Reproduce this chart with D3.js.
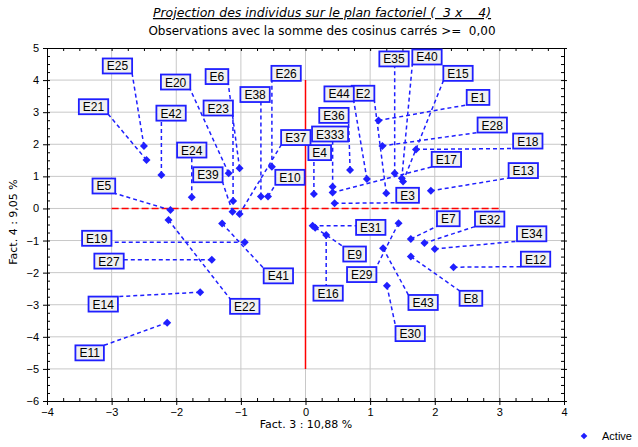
<!DOCTYPE html>
<html>
<head>
<meta charset="utf-8">
<script src="https://cdn.jsdelivr.net/npm/d3@7"></script>
<style>
  body { margin: 0; background: #fff; }
  text { font-family: "Liberation Sans", Arial, sans-serif; }
  .wide { font-family: "DejaVu Sans", sans-serif; }
</style>
</head>
<body>
<svg id="chart"></svg>
<script>
// Individuals projected on factor plane 3 x 4
const names  = ['E1','E2','E3','E4','E5','E6','E7','E8','E9','E10','E11','E12','E13','E14','E15','E16','E17','E18','E19','E20','E21','E22','E23','E24','E25','E26','E27','E28','E29','E30','E31','E32','E333','E34','E35','E36','E37','E38','E39','E40','E41','E42','E43','E44'];
const fact3  = [1.13, 1.25, 0.45, 0.13, -2.09, -1.02, 1.63, 1.63, 0.15, -0.58, -2.14, 2.29, 1.94, -1.63, 1.51, 0.32, 0.42, 1.71, -0.94, -1.19, -2.46, -2.12, -1.12, -1.76, -2.50, -0.52, -1.45, 1.19, 1.44, 1.26, 0.11, 1.84, 0.42, 2.00, 1.38, 0.69, -1.02, -0.69, -1.13, 1.49, -1.29, -2.23, 1.20, 0.95];
const fact4  = [2.74, 0.47, 0.16, 0.45, -0.05, 1.25, -0.95, -1.50, -0.60, 0.37, -3.56, -1.83, 0.55, -2.61, 0.84, -0.83, 0.50, 1.84, -1.05, 1.10, 1.51, -0.36, 0.23, 0.35, 1.95, 1.30, -1.60, 1.95, -0.46, -2.41, -0.54, -1.08, 0.68, -1.26, 1.10, 1.20, -0.17, 0.37, -0.10, 0.94, -0.47, 1.04, -1.24, 0.92];
// where each name tag sits, in factor units
const labelX = [2.67, 0.89, 1.58, 0.22, -3.12, -1.37, 2.21, 2.56, 0.76, -0.24, -3.34, 3.56, 3.37, -3.13, 2.36, 0.35, 2.18, 3.44, -3.23, -2.01, -3.28, -0.94, -1.35, -1.76, -2.91, -0.30, -3.04, 2.89, 0.87, 1.62, 1.01, 2.85, 0.38, 3.50, 1.37, 0.44, -0.15, -0.78, -1.51, 1.88, -0.42, -2.08, 1.82, 0.52];
const labelY = [3.46, 3.59, 0.41, 1.74, 0.70, 4.11, -0.32, -2.80, -1.42, 0.97, -4.50, -1.58, 1.18, -2.98, 4.21, -2.64, 1.53, 2.10, -0.93, 3.94, 3.17, -3.05, 3.13, 1.82, 4.44, 4.21, -1.64, 2.60, -2.06, -3.90, -0.59, -0.33, 2.32, -0.79, 4.66, 2.90, 2.21, 3.55, 1.05, 4.72, -2.10, 2.97, -2.93, 3.57];

const xTicks = [-4, -3, -2, -1, 0, 1, 2, 3, 4];
const yTicks = [5, 4, 3, 2, 1, 0, -1, -2, -3, -4, -5, -6];

const W = 638, H = 447;
const BLUE = '#1f1fff';

const svg = d3.select('#chart').attr('width', W).attr('height', H);

const x = d3.scaleLinear().domain([-4, 4]).range([47, 564]);
const y = d3.scaleLinear().domain([-6, 5]).range([401, 48]);

// Titles
svg.append('text').attr('class', 'wide').attr('x', 322).attr('y', 17).attr('text-anchor', 'middle')
  .attr('font-size', '12.5px').attr('font-style', 'italic')
  .attr('text-decoration', 'underline').attr('xml:space', 'preserve')
  .text('Projection des individus sur le plan factoriel (  3 x    4)');
svg.append('text').attr('class', 'wide').attr('x', 322).attr('y', 35).attr('text-anchor', 'middle')
  .attr('font-size', '12px').attr('xml:space', 'preserve')
  .text('Observations avec la somme des cosinus carrés >=  0,00');

// Grid
svg.append('g').selectAll('line').data(xTicks.slice(1, -1)).join('line')
  .attr('x1', d => x(d)).attr('x2', d => x(d)).attr('y1', y(5)).attr('y2', y(-6))
  .attr('stroke', '#c8c8c8');
svg.append('g').selectAll('line').data(yTicks.slice(1, -1)).join('line')
  .attr('y1', d => y(d)).attr('y2', d => y(d)).attr('x1', x(-4)).attr('x2', x(4))
  .attr('stroke', '#c8c8c8');

// Axes (major ticks out, minor ticks in)
const minorX = d3.range(-4, 4.001, 0.25);
const minorY = d3.range(-6, 5.001, 0.25);
svg.append('g').attr('transform', `translate(0,${y(-6)})`)
  .call(d3.axisBottom(x).tickValues(xTicks).tickSize(4).tickPadding(3).tickFormat(d3.format('d')));
svg.append('g').attr('transform', `translate(0,${y(-6)})`)
  .call(d3.axisBottom(x).tickValues(minorX).tickSize(-3).tickFormat(''));
svg.append('g').attr('transform', `translate(0,${y(5)})`)
  .call(d3.axisTop(x).tickValues(minorX).tickSize(-3).tickFormat(''));
svg.append('g').attr('transform', `translate(${x(-4)},0)`)
  .call(d3.axisLeft(y).tickValues(yTicks).tickSize(4).tickPadding(4).tickFormat(d3.format('d')));
svg.append('g').attr('transform', `translate(${x(-4)},0)`)
  .call(d3.axisLeft(y).tickValues(minorY).tickSize(-3).tickFormat(''));
svg.append('g').attr('transform', `translate(${x(4)},0)`)
  .call(d3.axisRight(y).tickValues(minorY).tickSize(-3).tickFormat(''));
svg.append('g').attr('transform', `translate(${x(4)},0)`)
  .call(d3.axisRight(y).tickValues(yTicks).tickSize(3).tickFormat(''));
svg.selectAll('.domain').attr('stroke', '#000');
svg.selectAll('.tick line').attr('stroke', '#000');
svg.selectAll('.tick text').attr('font-size', '11px').attr('fill', '#000')
  .attr('font-family', '"Liberation Sans", Arial, sans-serif');

// Axis titles
svg.append('text').attr('class', 'wide').attr('x', 306).attr('y', 428).attr('text-anchor', 'middle')
  .attr('font-size', '11px').text('Fact. 3 : 10,88 %');
svg.append('text').attr('class', 'wide').attr('transform', 'translate(17,222) rotate(-90)')
  .attr('text-anchor', 'middle').attr('font-size', '11px').text('Fact. 4 : 9,05 %');

// Origin reference lines
svg.append('line').attr('x1', x(-3)).attr('x2', x(3)).attr('y1', y(0)).attr('y2', y(0))
  .attr('stroke', '#ff0000').attr('stroke-width', 1.5).attr('stroke-dasharray', '7,3');
svg.append('line').attr('x1', x(0)).attr('x2', x(0)).attr('y1', y(4)).attr('y2', y(-5))
  .attr('stroke', '#ff0000').attr('stroke-width', 1.5);

// Build label boxes
const pts = names.map((n, i) => ({ name: n, fx: fact3[i], fy: fact4[i], lx: labelX[i], ly: labelY[i] }));

const leaders = svg.append('g');
const dots = svg.append('g');
const tags = svg.append('g');

pts.forEach(p => {
  const cx = x(p.lx), cy = y(p.ly);
  const g = tags.append('g');
  const t = g.append('text').attr('x', cx).attr('y', cy + 4.5).attr('text-anchor', 'middle')
    .attr('font-size', '12px').attr('fill', '#000').text(p.name);
  const tw = t.node().getComputedTextLength();
  const bw = tw + 8, bh = 15;
  p.box = { x0: cx - bw / 2, x1: cx + bw / 2, y0: cy - bh / 2, y1: cy + bh / 2 };
  g.insert('rect', 'text').attr('x', p.box.x0).attr('y', p.box.y0)
    .attr('width', bw).attr('height', bh)
    .attr('fill', '#f0f0f0').attr('stroke', BLUE).attr('stroke-width', 1.8);
});

// Dashed leaders from point to nearest edge of its tag
leaders.selectAll('line').data(pts).join('line')
  .attr('x1', d => x(d.fx)).attr('y1', d => y(d.fy))
  .attr('x2', d => Math.max(d.box.x0, Math.min(d.box.x1, x(d.fx))))
  .attr('y2', d => Math.max(d.box.y0, Math.min(d.box.y1, y(d.fy))))
  .attr('stroke', BLUE).attr('stroke-width', 1.5).attr('stroke-dasharray', '4,3');

const diamond = d3.symbol().type(d3.symbolSquare).size(32);
dots.selectAll('path').data(pts).join('path')
  .attr('d', diamond)
  .attr('transform', d => `translate(${x(d.fx)},${y(d.fy)}) rotate(45)`)
  .attr('fill', BLUE);

// Legend
svg.append('path').attr('d', d3.symbol().type(d3.symbolSquare).size(22))
  .attr('transform', 'translate(584,436) rotate(45)').attr('fill', BLUE);
svg.append('text').attr('x', 602).attr('y', 440).attr('font-size', '11px').text('Active');
</script>
</body>
</html>
